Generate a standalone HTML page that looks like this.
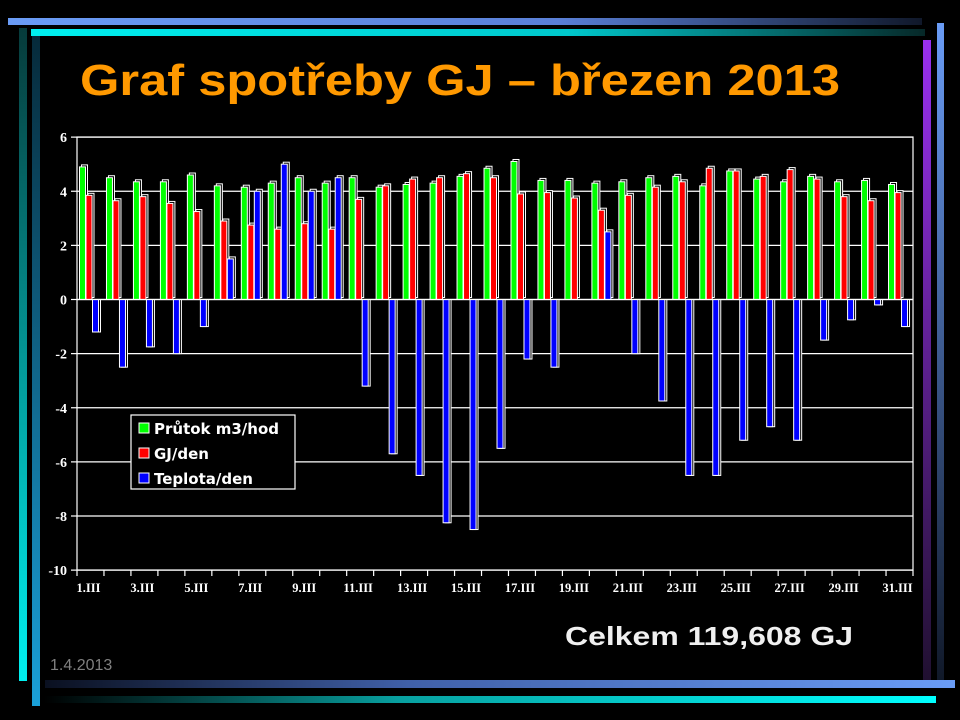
<!DOCTYPE html>
<html><head><meta charset="utf-8"><style>
html,body{margin:0;padding:0;background:#000;width:960px;height:720px;overflow:hidden}
</style></head><body>
<svg width="960" height="720" xmlns="http://www.w3.org/2000/svg">
<defs>
<linearGradient id="gTop" x1="0" x2="1"><stop offset="0" stop-color="#6a9cf6"/><stop offset="0.6" stop-color="#5a80d8"/><stop offset="1" stop-color="#10182a"/></linearGradient>
<linearGradient id="gTop2" x1="0" x2="1"><stop offset="0" stop-color="#00f0f0"/><stop offset="0.6" stop-color="#00c8cc"/><stop offset="1" stop-color="#062828"/></linearGradient>
<linearGradient id="gBot" x1="0" x2="1"><stop offset="0" stop-color="#0a1020"/><stop offset="0.4" stop-color="#4060a8"/><stop offset="1" stop-color="#6a9cf6"/></linearGradient>
<linearGradient id="gBot2" x1="0" x2="1"><stop offset="0" stop-color="#000"/><stop offset="0.4" stop-color="#08a0a0"/><stop offset="1" stop-color="#00ffff"/></linearGradient>
<linearGradient id="gL1" x1="0" y1="0" x2="0" y2="1"><stop offset="0" stop-color="#063a3a"/><stop offset="1" stop-color="#00f0f0"/></linearGradient>
<linearGradient id="gL2" x1="0" y1="0" x2="0" y2="1"><stop offset="0" stop-color="#062a3a"/><stop offset="1" stop-color="#1aa0d8"/></linearGradient>
<linearGradient id="gR1" x1="0" y1="0" x2="0" y2="1"><stop offset="0" stop-color="#9a30f0"/><stop offset="1" stop-color="#201030"/></linearGradient>
<linearGradient id="gR2" x1="0" y1="0" x2="0" y2="1"><stop offset="0" stop-color="#6a9cf6"/><stop offset="1" stop-color="#101828"/></linearGradient>
</defs>
<rect x="8" y="18" width="914" height="7" fill="url(#gTop)"/>
<rect x="31" y="29" width="894" height="7" fill="url(#gTop2)"/>
<rect x="19" y="28" width="8" height="653" fill="url(#gL1)"/>
<rect x="32" y="36" width="8" height="670" fill="url(#gL2)"/>
<rect x="923" y="40" width="8" height="640" fill="url(#gR1)"/>
<rect x="937" y="23" width="7" height="660" fill="url(#gR2)"/>
<rect x="45" y="680" width="910" height="8" fill="url(#gBot)"/>
<rect x="44" y="696" width="892" height="7" fill="url(#gBot2)"/>

<text x="80" y="95" font-family="Liberation Sans, sans-serif" font-weight="bold" font-size="44" fill="#ff9900" textLength="760" lengthAdjust="spacingAndGlyphs">Graf spotřeby GJ – březen 2013</text>

<g id="chart"></g>

<text x="565" y="645" font-family="Liberation Sans, sans-serif" font-weight="bold" font-size="26" fill="#f0f0f0" textLength="288" lengthAdjust="spacingAndGlyphs">Celkem 119,608 GJ</text>
<text x="50" y="670" font-family="Liberation Sans, sans-serif" font-size="16" fill="#808080">1.4.2013</text>
</svg>
<script>
const ns="http://www.w3.org/2000/svg";
const g=document.getElementById("chart");
function el(t,a,txt){const e=document.createElementNS(ns,t);for(const k in a)e.setAttribute(k,a[k]);if(txt)e.textContent=txt;g.appendChild(e);return e;}
const L=77,R=913,T=137,B=570,y0=299.5,s=(B-T)/16;
const Y=v=>y0-v*s;
for(let v=-10;v<=6;v+=2){el("line",{x1:L,x2:R,y1:Y(v),y2:Y(v),stroke:"#fff","stroke-width":1.2});
el("line",{x1:L-6,x2:L,y1:Y(v),y2:Y(v),stroke:"#fff","stroke-width":1.2});
el("text",{x:L-10,y:Y(v)+5,"text-anchor":"end","font-family":"Liberation Serif, serif","font-weight":"bold","font-size":14,fill:"#fff"},String(v));}
el("rect",{x:L,y:T,width:R-L,height:B-T,fill:"none",stroke:"#fff","stroke-width":1.2});
const gr=[4.9,4.5,4.35,4.35,4.6,4.2,4.15,4.3,4.5,4.3,4.5,4.15,4.25,4.3,4.55,4.85,5.1,4.4,4.4,4.3,4.35,4.5,4.55,4.2,4.75,4.45,4.35,4.55,4.35,4.4,4.25];
const rd=[3.85,3.65,3.8,3.55,3.25,2.9,2.75,2.6,2.8,2.6,3.7,4.2,4.45,4.5,4.65,4.5,3.9,3.95,3.75,3.3,3.85,4.15,4.35,4.85,4.75,4.55,4.8,4.45,3.8,3.65,3.95];
const bl=[-1.2,-2.5,-1.75,-2.0,-1.0,1.5,4.0,5.0,4.0,4.5,-3.2,-5.7,-6.5,-8.25,-8.5,-5.5,-2.2,-2.5,0,2.5,-2.0,-3.75,-6.5,-6.5,-5.2,-4.7,-5.2,-1.5,-0.75,-0.2,-1.0];
const w=(R-L)/31;
function bar(x,v,c){if(v===0)return;const y=Math.min(Y(v),y0),h=Math.abs(v*s);
el("rect",{x:x+2,y:y-(v>0?2:0),width:6,height:h,fill:"#000",stroke:"#fff","stroke-width":1});
el("rect",{x:x,y:y,width:6,height:h,fill:c,stroke:"#fff","stroke-width":1});}
for(let i=0;i<31;i++){const x=L+i*w;
bar(x+2.5,gr[i],"#00ff00");bar(x+9,rd[i],"#ff0000");bar(x+15.5,bl[i],"#0000ff");
el("line",{x1:x,x2:x,y1:B,y2:B+6,stroke:"#fff","stroke-width":1.2});
if(i%2==0)el("text",{x:x+w/2-2,y:B+22,"text-anchor":"middle","font-family":"Liberation Serif, serif","font-weight":"bold","font-size":12.5,fill:"#fff"},(i+1)+".III");}
el("line",{x1:R,x2:R,y1:B,y2:B+6,stroke:"#fff","stroke-width":1.2});
el("line",{x1:L,x2:R,y1:y0,y2:y0,stroke:"#fff","stroke-width":1.2});
el("rect",{x:131,y:415,width:164,height:74,fill:"#000",stroke:"#fff","stroke-width":1.2});
[["#00ff00","Průtok m3/hod"],["#ff0000","GJ/den"],["#0000ff","Teplota/den"]].forEach((a,i)=>{const yy=423+i*25;
el("rect",{x:139,y:yy,width:10,height:10,fill:a[0],stroke:"#fff","stroke-width":1});
el("text",{x:154,y:yy+11,"font-family":"DejaVu Sans, sans-serif","font-weight":"bold","font-size":15,fill:"#fff"},a[1]);});
</script>
</body></html>
